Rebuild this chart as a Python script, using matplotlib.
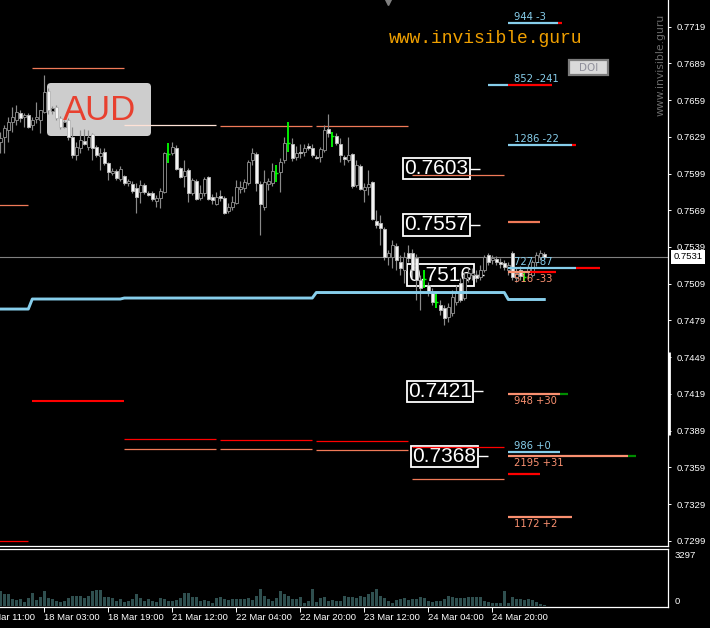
import numpy as np
import matplotlib
matplotlib.use("Agg")
import matplotlib.pyplot as plt
from matplotlib.patches import Rectangle, FancyBboxPatch
from matplotlib.lines import Line2D
from matplotlib.transforms import Affine2D, blended_transform_factory

# ---------------- data ----------------
opens = [0.76248, 0.76289, 0.76346, 0.76411, 0.76428, 0.76485, 0.76452, 0.76468, 0.76387, 0.76436,
         0.76428, 0.76493, 0.76665, 0.76501, 0.76534, 0.76444, 0.76370, 0.76428, 0.76289, 0.76142,
         0.76199, 0.76256, 0.76207, 0.76313, 0.76207, 0.76133, 0.76166, 0.76076, 0.75995, 0.76011,
         0.75946, 0.75970, 0.75913, 0.75905, 0.75872, 0.75839, 0.75897, 0.75831, 0.75831, 0.75766,
         0.75790, 0.75839, 0.76150, 0.76158, 0.76199, 0.76035, 0.75970, 0.76019, 0.75831, 0.75929,
         0.75790, 0.75831, 0.75962, 0.75799, 0.75741, 0.75807, 0.75790, 0.75684, 0.75717, 0.75749,
         0.75864, 0.75872, 0.75913, 0.76101, 0.76150, 0.75905, 0.75717, 0.75905, 0.75913, 0.75986,
         0.76003, 0.76101, 0.76232, 0.76232, 0.76125, 0.76166, 0.76166, 0.76215, 0.76199, 0.76125,
         0.76125, 0.76182, 0.76354, 0.76305, 0.76297, 0.76232, 0.76125, 0.76101, 0.76150, 0.75897,
         0.76052, 0.75856, 0.75880, 0.75921, 0.75602, 0.75586, 0.75537, 0.75308, 0.75308, 0.75398,
         0.75267, 0.75202, 0.75341, 0.75341, 0.75300, 0.75120, 0.75120, 0.75080, 0.75022, 0.74949,
         0.74916, 0.74892, 0.74818, 0.74851, 0.74941, 0.75096, 0.74973, 0.75145, 0.75161, 0.75161,
         0.75145, 0.75202, 0.75325, 0.75284, 0.75292, 0.75267, 0.75259, 0.75202, 0.75341, 0.75137,
         0.75202, 0.75137, 0.75186, 0.75161, 0.75267, 0.75308, 0.75333]
highs = [0.76330, 0.76387, 0.76452, 0.76534, 0.76550, 0.76509, 0.76485, 0.76485, 0.76452, 0.76575,
         0.76509, 0.76795, 0.76689, 0.76542, 0.76550, 0.76460, 0.76428, 0.76444, 0.76370, 0.76248,
         0.76346, 0.76354, 0.76346, 0.76321, 0.76223, 0.76199, 0.76199, 0.76084, 0.76035, 0.76027,
         0.76052, 0.75978, 0.75946, 0.75929, 0.75913, 0.75937, 0.75913, 0.75848, 0.75848, 0.75815,
         0.75872, 0.76166, 0.76240, 0.76248, 0.76223, 0.76044, 0.76101, 0.76035, 0.75954, 0.75946,
         0.75897, 0.75962, 0.75970, 0.75823, 0.75839, 0.75856, 0.75807, 0.75749, 0.75807, 0.75937,
         0.75929, 0.75946, 0.76101, 0.76199, 0.76166, 0.75929, 0.76019, 0.75954, 0.76076, 0.76060,
         0.76117, 0.76289, 0.76411, 0.76281, 0.76215, 0.76232, 0.76232, 0.76240, 0.76232, 0.76142,
         0.76207, 0.76387, 0.76477, 0.76330, 0.76321, 0.76281, 0.76142, 0.76289, 0.76158, 0.76101,
         0.76068, 0.75913, 0.76019, 0.75929, 0.75692, 0.75651, 0.75553, 0.75365, 0.75447, 0.75423,
         0.75325, 0.75349, 0.75406, 0.75374, 0.75333, 0.75161, 0.75202, 0.75104, 0.75055, 0.75022,
         0.74957, 0.74916, 0.74932, 0.75039, 0.75080, 0.75137, 0.75186, 0.75218, 0.75218, 0.75202,
         0.75243, 0.75325, 0.75341, 0.75325, 0.75316, 0.75300, 0.75284, 0.75267, 0.75357, 0.75218,
         0.75235, 0.75178, 0.75251, 0.75284, 0.75349, 0.75365, 0.75349]
lows = [0.76158, 0.76158, 0.76248, 0.76330, 0.76387, 0.76411, 0.76370, 0.76362, 0.76346, 0.76403,
        0.76321, 0.76485, 0.76477, 0.76477, 0.76428, 0.76354, 0.76362, 0.76264, 0.76117, 0.76101,
        0.76158, 0.76223, 0.76182, 0.76101, 0.76125, 0.76019, 0.76060, 0.75937, 0.75978, 0.75937,
        0.75929, 0.75897, 0.75888, 0.75831, 0.75668, 0.75749, 0.75823, 0.75807, 0.75766, 0.75717,
        0.75709, 0.75831, 0.76076, 0.76142, 0.76019, 0.75954, 0.75880, 0.75758, 0.75815, 0.75774,
        0.75774, 0.75807, 0.75774, 0.75741, 0.75733, 0.75766, 0.75660, 0.75668, 0.75692, 0.75741,
        0.75831, 0.75839, 0.75897, 0.76060, 0.75848, 0.75488, 0.75692, 0.75856, 0.75888, 0.75921,
        0.75839, 0.76076, 0.76166, 0.76093, 0.76101, 0.76117, 0.76133, 0.76182, 0.76125, 0.76109,
        0.76084, 0.76166, 0.76289, 0.76207, 0.76223, 0.76084, 0.76060, 0.76084, 0.75872, 0.75880,
        0.75856, 0.75758, 0.75815, 0.75611, 0.75545, 0.75406, 0.75284, 0.75243, 0.75218, 0.75202,
        0.75161, 0.75096, 0.75267, 0.75137, 0.74957, 0.74875, 0.75055, 0.74990, 0.74916, 0.74892,
        0.74834, 0.74753, 0.74777, 0.74826, 0.74916, 0.74941, 0.74957, 0.75104, 0.75120, 0.75104,
        0.75120, 0.75186, 0.75243, 0.75251, 0.75243, 0.75218, 0.75202, 0.75161, 0.75120, 0.75104,
        0.75120, 0.75104, 0.75137, 0.75145, 0.75235, 0.75284, 0.75292]
closes = [0.76281, 0.76362, 0.76411, 0.76452, 0.76493, 0.76444, 0.76468, 0.76370, 0.76428, 0.76452,
          0.76509, 0.76656, 0.76509, 0.76526, 0.76444, 0.76370, 0.76411, 0.76289, 0.76142, 0.76207,
          0.76264, 0.76232, 0.76289, 0.76199, 0.76142, 0.76158, 0.76076, 0.76003, 0.76011, 0.75954,
          0.76027, 0.75913, 0.75929, 0.75848, 0.75799, 0.75897, 0.75839, 0.75815, 0.75782, 0.75790,
          0.75848, 0.76158, 0.76150, 0.76207, 0.76027, 0.75962, 0.76011, 0.75831, 0.75937, 0.75782,
          0.75831, 0.75946, 0.75782, 0.75774, 0.75799, 0.75790, 0.75668, 0.75717, 0.75758, 0.75880,
          0.75880, 0.75921, 0.76084, 0.76158, 0.75913, 0.75741, 0.75921, 0.75929, 0.76011, 0.75995,
          0.76084, 0.76240, 0.76240, 0.76117, 0.76158, 0.76158, 0.76199, 0.76199, 0.76142, 0.76117,
          0.76191, 0.76346, 0.76321, 0.76297, 0.76240, 0.76142, 0.76109, 0.76142, 0.75888, 0.76060,
          0.75864, 0.75880, 0.75905, 0.75619, 0.75570, 0.75545, 0.75308, 0.75341, 0.75406, 0.75284,
          0.75218, 0.75308, 0.75300, 0.75202, 0.75120, 0.75055, 0.75129, 0.75022, 0.74941, 0.74941,
          0.74875, 0.74810, 0.74900, 0.74982, 0.75022, 0.74957, 0.75137, 0.75178, 0.75178, 0.75137,
          0.75202, 0.75308, 0.75267, 0.75300, 0.75267, 0.75251, 0.75227, 0.75243, 0.75145, 0.75178,
          0.75153, 0.75145, 0.75218, 0.75267, 0.75325, 0.75341, 0.75310]
green_bars = [42, 69, 72, 83, 106, 109, 131]

volumes = [900, 700, 700, 440, 360, 400, 240, 500, 760, 360,
           560, 900, 500, 400, 300, 240, 300, 500, 600, 600,
           600, 500, 600, 900, 940, 940, 560, 540, 500, 300,
           400, 240, 300, 400, 700, 500, 300, 400, 300, 240,
           500, 440, 300, 300, 360, 500, 760, 760, 540, 540,
           300, 360, 300, 200, 500, 560, 400, 360, 400, 440,
           400, 440, 500, 360, 600, 1040, 600, 400, 300, 500,
           900, 700, 600, 400, 440, 560, 200, 300, 1000, 240,
           500, 560, 300, 360, 300, 300, 600, 560, 560, 500,
           600, 560, 700, 840, 1040, 600, 500, 300, 200, 360,
           440, 500, 360, 400, 440, 560, 500, 300, 260, 300,
           300, 400, 600, 560, 500, 500, 500, 560, 560, 560,
           560, 300, 240, 200, 200, 160, 900, 160, 560, 400,
           440, 360, 440, 360, 240, 100, 60]
volume_scale_max = 3297

current_price = 0.7531
price_ticks = [0.7719, 0.7689, 0.7659, 0.7629, 0.7599, 0.7569, 0.7539, 0.7509,
               0.7479, 0.7449, 0.7419, 0.7389, 0.7359, 0.7329, 0.7299]
time_tick_bars = [-5, 11, 27, 43, 59, 75, 91, 107, 123]
time_tick_labels = ["17 Mar 11:00", "18 Mar 03:00", "18 Mar 19:00", "21 Mar 12:00",
                    "22 Mar 04:00", "22 Mar 20:00", "23 Mar 12:00", "24 Mar 04:00",
                    "24 Mar 20:00"]

# daily stepped average (blue)
blue_day_values = [0.74883, 0.74965, 0.74973, 0.74973, 0.75018, 0.75018, 0.74961]
blue_day_bars = [8, 23, 24, 24, 24, 24, 10]

# daily levels
day_start = [-1, 8, 31, 55, 79, 103]
day_end = [7, 31, 54, 78, 102, 126]
day_upper = [0.75733, 0.76852, 0.76387, 0.76379, 0.76375, 0.75976]
day_lower_red = [0.72984, 0.74134, 0.73819, 0.73811, 0.73803, 0.73754]
day_lower_salmon = [np.nan, np.nan, 0.73737, 0.73737, 0.73729, 0.73492]

# boxed key levels
key_levels = [0.7603, 0.7557, 0.7516, 0.7421, 0.7368]
key_level_bar = [101, 101, 102, 102, 103]

# right-hand volume levels
rl_price = [0.77220, 0.76714, 0.76223, 0.75594, 0.75218, 0.75186, 0.74189,
            0.73715, 0.73683, 0.73535, 0.73184]
rl_start = [127, 122, 127, 127, 127, 127, 127, 127, 127, 127, 127]
rl_split = [139.5, 127, 143, 135, 144, 132.5, 140, 140, 157, 135, 143]
rl_end = [140.5, 138, 144, 135, 150, 139, 142, 140, 159, 135, 143]
rl_label = ["944 -3", "852 -241", "1286 -22", "", "727 -87", "516 -33", "948 +30",
            "986 +0", "2195 +31", "", "1172 +2"]
rl_kind = ["blue", "blue", "blue", "coral", "blue", "salmon", "salmon", "blue",
           "salmon", "red", "salmon"]
rl_tail = ["red", "red", "red", None, "red", "red", "green", None, "green", None, None]
rl_label_bar = 128.5

range_marker = (0.74532, 0.73854)

# ---------------- style ----------------
COL = {"blue": "#87CEEB", "salmon": "#FA9070", "coral": "#F07A58", "red": "#FF0000",
       "green": "#008C00", "pale": "#FFE2D6"}
WICK = "#8A8A8A"
BEAR_FACE = "#F4F4F4"
GREEN = "#00FF00"
VOL = "#2F4F4F"
FS_AXIS = "Liberation Sans"

W, H = 710, 628
fig = plt.figure(figsize=(W / 100, H / 100), dpi=100)
fig.patch.set_facecolor("black")
PX = Affine2D().scale(1, -1).translate(0, H)  # pixel coords, origin top-left

ax = fig.add_axes([0, 1 - 546 / H, 668 / W, 546 / H])
axv = fig.add_axes([0, 1 - 607 / H, 668 / W, 58 / H])
XLIM = (-0.3 / 4, (668 - 0.3) / 4)
for a in (ax, axv):
    a.set_facecolor("black")
    a.set_xlim(*XLIM)
    for s in ("left", "top"):
        a.spines[s].set_visible(False)
    for s in ("right", "bottom"):
        a.spines[s].set_color("white")
        a.spines[s].set_linewidth(0.9)
axv.spines["top"].set_visible(True)
axv.spines["top"].set_color("white")
axv.spines["top"].set_linewidth(0.9)

ax.set_ylim(0.72947, 0.77408)
axv.set_ylim(-60, 3420)

# price axis
ax.yaxis.tick_right()
ax.set_yticks(price_ticks)
ax.set_yticklabels([f"{t:.4f}" for t in price_ticks], fontfamily=FS_AXIS)
ax.tick_params(axis="y", colors="white", length=2.5, width=0.7, pad=3.5, labelsize=6.8)
ax.set_xticks([])

# volume axis
axv.yaxis.tick_right()
axv.set_yticks([0, volume_scale_max])
vl = axv.set_yticklabels(["0", str(volume_scale_max)], fontfamily=FS_AXIS)
vl[0].set_va("bottom")
vl[1].set_va("top")
axv.tick_params(axis="y", colors="white", length=0, width=0.7, pad=5.0, labelsize=6.8)
vis_ticks = [b for b in time_tick_bars if XLIM[0] <= b <= XLIM[1]]
axv.set_xticks(vis_ticks)
axv.set_xticklabels([""] * len(vis_ticks))
axv.tick_params(axis="x", colors="white", length=3.5, width=0.7, direction="out")
tt = blended_transform_factory(axv.transData, PX)
for b, lab in zip(time_tick_bars, time_tick_labels):
    axv.text(b, 618, lab, transform=tt, ha="left", va="center", color="white",
             fontsize=6.8, fontfamily=FS_AXIS, clip_on=False)

# volume bars
axv.bar(np.arange(len(volumes)), volumes, width=0.75, color=VOL, linewidth=0)

# candles
for i in range(len(opens)):
    o, h, l, c = opens[i], highs[i], lows[i], closes[i]
    if i in green_bars:
        ax.vlines(i, l, h, color=GREEN, lw=1.3, zorder=3)
        ax.hlines(c, i - 0.45, i + 0.45, color=GREEN, lw=1.0, zorder=3)
        continue
    ax.vlines(i, l, h, color=WICK, lw=0.85, zorder=3)
    bear = c < o
    bottom = min(o, c)
    height = max(abs(c - o), 0.00005)
    ax.add_patch(Rectangle((i - 0.34, bottom), 0.68, height,
                           facecolor=BEAR_FACE if bear else "black",
                           edgecolor="#B8B8B8" if bear else WICK, lw=0.65, zorder=3.1))

# current price line & label
ax.axhline(current_price, color="#808080", lw=0.8, zorder=2.5)
bt = blended_transform_factory(ax.transAxes, ax.transData)
ax.text(1.0085, current_price, f"{current_price:.4f}", transform=bt, ha="left", va="center",
        color="black", fontsize=6.8, fontfamily=FS_AXIS, clip_on=False, zorder=10,
        bbox=dict(boxstyle="square,pad=0.28", fc="white", ec="white", lw=0))

# range marker on price axis
ax.plot([XLIM[1] + 0.25, XLIM[1] + 0.25], list(range_marker), color="white", lw=2.0,
        solid_capstyle="butt", clip_on=False, zorder=10)

# daily levels
upper_colors = ["coral", "coral", "pale", "coral", "coral", "coral"]
for k in range(len(day_start)):
    ax.hlines(day_upper[k], day_start[k], day_end[k], color=COL[upper_colors[k]], lw=0.9, zorder=2)
    ax.hlines(day_lower_red[k], day_start[k], day_end[k], color=COL["red"],
              lw=1.5 if k == 1 else 0.9, zorder=2)
    if not np.isnan(day_lower_salmon[k]):
        ax.hlines(day_lower_salmon[k], day_start[k], day_end[k], color=COL["coral"], lw=0.9, zorder=2)

# blue stepped average
blue_series = np.repeat(blue_day_values, blue_day_bars)
ax.plot(np.arange(len(blue_series)), blue_series, color=COL["blue"], lw=2.1, zorder=4,
        solid_joinstyle="round")

# right-hand levels
for k in range(len(rl_price)):
    p = rl_price[k]
    ax.hlines(p, rl_start[k], rl_split[k], color=COL[rl_kind[k]], lw=1.6, zorder=5)
    if rl_tail[k]:
        ax.hlines(p, rl_split[k], rl_end[k], color=COL[rl_tail[k]], lw=1.6, zorder=5)
    if rl_label[k]:
        above = rl_kind[k] == "blue"
        ax.annotate(rl_label[k], (rl_label_bar, p), xytext=(0, 1.0 if above else -1.8),
                    textcoords="offset points", ha="left", va="bottom" if above else "top",
                    color=COL[rl_kind[k]], fontsize=7.2, fontfamily="DejaVu Sans", zorder=6)

# boxed key levels
key_texts = []
for lvl, b in zip(key_levels, key_level_bar):
    t = ax.text(b, lvl, f"{lvl:.4f}", ha="left", va="center", color="white", fontsize=15,
                fontfamily="Liberation Sans", zorder=1,
                bbox=dict(boxstyle="square,pad=0.06", fc="black", ec="white", lw=1.3))
    key_texts.append((t, lvl))

# AUD badge
fig.add_artist(FancyBboxPatch((47, 83), 104, 53, boxstyle="round,pad=0,rounding_size=4",
                              transform=PX, fc="#CDCDCD", ec="none", zorder=0.5))
ax.set_zorder(1)
ax.patch.set_alpha(0)
fig.text(99.5, 110, "AUD", transform=PX, ha="center", va="center", color="#E8402F",
         fontsize=25, fontfamily="Liberation Sans", zorder=0.6)

# DOI button
fig.add_artist(Rectangle((569, 60), 39, 15, transform=PX, fc="#DADADA", ec="#7C7C7C", lw=1.6, zorder=20))
fig.text(588.5, 67.8, "DOI", transform=PX, ha="center", va="center", color="#8E8E9A",
         fontsize=7.5, fontfamily="DejaVu Sans", zorder=21)

# watermark texts
fig.text(486, 43, "www.invisible.guru", transform=PX, ha="center", va="baseline",
         color="#F0A000", fontsize=13, fontfamily="Liberation Mono", zorder=20)
fig.text(661, 65, "www.invisible.guru", transform=PX, ha="center", va="center", rotation=90,
         color="#6A6A6A", fontsize=7.8, fontfamily="DejaVu Sans", zorder=20)

# small shift marker at top
fig.add_artist(Line2D([388], [2], transform=PX, marker="v", markersize=5, color="#808080",
                      linestyle="none", zorder=20))

# tick lines next to the boxed levels
fig.canvas.draw()
r = fig.canvas.get_renderer()
inv = ax.transData.inverted()
for t, lvl in key_texts:
    bb = t.get_bbox_patch().get_window_extent(r)
    x1 = inv.transform((bb.x1, 0))[0]
    ax.hlines(lvl, x1, x1 + 2.5, color="white", lw=1.0, zorder=1)

fig.savefig("out.png", dpi=100, facecolor="black")
